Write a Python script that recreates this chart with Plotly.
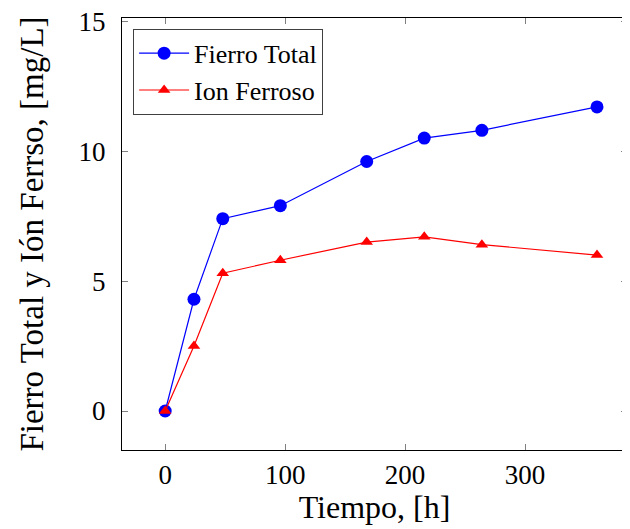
import plotly.graph_objects as go

tiempo = [0, 24, 48, 96, 168, 216, 264, 360]
fierro_total = [0, 4.3, 7.4, 7.9, 9.6, 10.5, 10.8, 11.7]
ion_ferroso = [0, 2.5, 5.3, 5.8, 6.5, 6.7, 6.4, 6.0]
x_ticks = [0, 100, 200, 300]
y_ticks = [0, 5, 10, 15]

FONT = "Times New Roman"

fig = go.Figure()
fig.add_trace(go.Scatter(
    x=tiempo, y=fierro_total, mode="lines+markers", name="Fierro Total",
    line=dict(color="#0000ff", width=1.2),
    marker=dict(symbol="circle", size=13, color="#0000ff"),
))
fig.add_trace(go.Scatter(
    x=tiempo, y=ion_ferroso, mode="lines+markers", name="Ion Ferroso",
    line=dict(color="#ff0000", width=1.2),
    marker=dict(symbol="triangle-up", size=11, color="#ff0000"),
))

axis_common = dict(
    showgrid=False, zeroline=False, showline=True, linecolor="black", linewidth=1.2,
    mirror="ticks", ticks="inside", ticklen=6, tickcolor="#808080", tickwidth=1,
    tickfont=dict(family=FONT, size=27, color="black"),
    ticklabeloverflow="allow", automargin=False,
)
fig.update_xaxes(range=[-36, 385], tickvals=x_ticks, ticktext=[str(v) for v in x_ticks],
                 title=dict(text="Tiempo, [h]", font=dict(family=FONT, size=32, color="black"), standoff=4),
                 **axis_common)
fig.update_yaxes(range=[-1.5, 15.12], tickvals=y_ticks, ticktext=[str(v) for v in y_ticks],
                 ticklabelstandoff=10,
                 title=dict(text="Fierro Total y Ión Ferrso, [mg/L]", font=dict(family=FONT, size=33, color="black"), standoff=24),
                 **axis_common)

fig.update_layout(
    width=622, height=521,
    margin=dict(l=114, r=3, t=10, b=79, autoexpand=False),
    paper_bgcolor="white", plot_bgcolor="white",
    font=dict(family=FONT, color="black"),
    showlegend=True,
    legend=dict(x=0.022, y=0.975, xanchor="left", yanchor="top",
                bordercolor="#404040", borderwidth=1, bgcolor="white",
                font=dict(family=FONT, size=26, color="black"),
                tracegroupgap=0, itemwidth=50),
)

fig.write_html("out.html")
